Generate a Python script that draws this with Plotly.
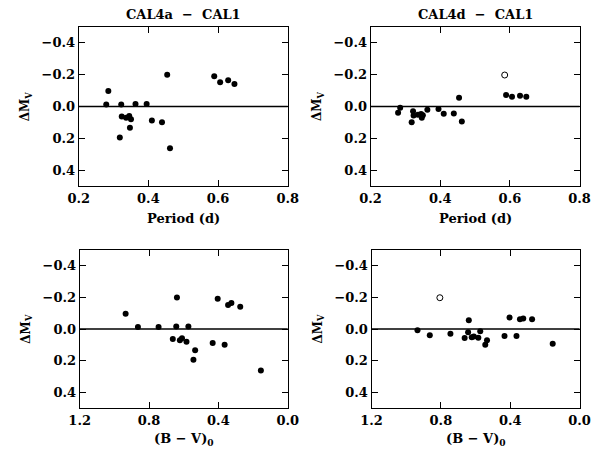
import plotly.graph_objects as go

# Data: 19 stars
period = [0.279, 0.285, 0.322, 0.3235, 0.336, 0.345, 0.350, 0.347, 0.318, 0.363,
          0.395, 0.410, 0.439, 0.454, 0.462, 0.589, 0.606, 0.629, 0.647]
bv0 = [0.864, 0.935, 0.745, 0.663, 0.622, 0.610, 0.584, 0.534, 0.544, 0.643,
       0.573, 0.433, 0.364, 0.639, 0.155, 0.404, 0.344, 0.325, 0.274]
dmv_cal4a = [-0.013, -0.097, -0.013, 0.063, 0.071, 0.059, 0.080, 0.134, 0.195, -0.016,
             -0.016, 0.088, 0.099, -0.200, 0.262, -0.191, -0.152, -0.165, -0.141]
dmv_cal4d = [0.040, 0.008, 0.030, 0.057, 0.052, 0.047, 0.055, 0.071, 0.099, 0.020,
             0.015, 0.045, 0.044, -0.055, 0.094, -0.072, -0.062, -0.067, -0.062]
# Open-circle point (CAL4d panels only)
open_period = [0.585]
open_bv0 = [0.806]
open_dmv = [-0.198]

titles = ["CAL4a  \u2212  CAL1", "CAL4d  \u2212  CAL1"]

OFF = 8  # page body margin
W, H = 606 - OFF, 449 - OFF
FONT = dict(family="DejaVu Serif", size=13, color="black", weight="bold")

fig = go.Figure()

panels = [
    ("x", "y", period, dmv_cal4a, (70, 287), (27, 186)),
    ("x2", "y2", period, dmv_cal4d, (373, 590), (27, 186)),
    ("x3", "y3", bv0, dmv_cal4a, (71, 287), (250, 408)),
    ("x4", "y4", bv0, dmv_cal4d, (374, 590), (250, 408)),
]

for xa, ya, xd, yd, xp, yp in panels:
    fig.add_trace(go.Scatter(x=xd, y=yd, mode="markers", xaxis=xa, yaxis=ya,
                             marker=dict(size=6, color="black", line=dict(width=0)),
                             showlegend=False))

fig.add_trace(go.Scatter(x=open_period, y=open_dmv, mode="markers", xaxis="x2", yaxis="y2",
                         marker=dict(size=6, color="white", line=dict(width=1, color="black")),
                         showlegend=False))
fig.add_trace(go.Scatter(x=open_bv0, y=open_dmv, mode="markers", xaxis="x4", yaxis="y4",
                         marker=dict(size=6, color="white", line=dict(width=1, color="black")),
                         showlegend=False))

layout = dict(width=W, height=H, margin=dict(l=0, r=0, t=0, b=0),
              paper_bgcolor="white", plot_bgcolor="white", showlegend=False,
              font=FONT)


def px(x):
    return (x - OFF) / W


def py(y):
    return 1 - (y - OFF) / H


shapes = []
annotations = []
for i, (xa, ya, xd, yd, xp, yp) in enumerate(panels):
    xk = "xaxis" if xa == "x" else "xaxis" + xa[1:]
    yk = "yaxis" if ya == "y" else "yaxis" + ya[1:]
    xdom = [px(xp[0]), px(xp[1])]
    ydom = [py(yp[1]), py(yp[0])]
    top = i < 2
    common = dict(showline=True, linecolor="black", linewidth=1, mirror="ticks",
                  ticks="inside", ticklen=6, tickwidth=1, tickcolor="black",
                  showgrid=False, zeroline=False, tickfont=FONT)
    if top:
        layout[xk] = dict(domain=xdom, range=[0.2, 0.8], tickvals=[0.2, 0.4, 0.6, 0.8],
                          tickformat=".1f", anchor=ya, **common)
    else:
        layout[xk] = dict(domain=xdom, range=[1.2, 0.0], tickvals=[1.2, 0.8, 0.4, 0.0],
                          tickformat=".1f", anchor=ya, **common)
    layout[yk] = dict(domain=ydom, range=[0.5, -0.5], tickvals=[-0.4, -0.2, 0.0, 0.2, 0.4],
                      tickformat=".1f", anchor=xa, **common)
    shapes.append(dict(type="line", xref=xa + " domain", yref=ya, x0=0, x1=1, y0=0, y1=0,
                       line=dict(color="black", width=1.5)))
    cx = px((xp[0] + xp[1]) / 2)
    annotations.append(dict(text="\u0394M<sub>V</sub>", x=px(xp[0] - 55),
                            y=py((yp[0] + yp[1]) / 2), xref="paper", yref="paper",
                            textangle=-90, showarrow=False, font=dict(FONT, size=12),
                            xanchor="center", yanchor="middle"))
    if top:
        annotations.append(dict(text=titles[i], x=cx, y=py(15), xref="paper", yref="paper",
                                showarrow=False, font=FONT, xanchor="center", yanchor="middle"))
        annotations.append(dict(text="Period (d)", x=cx, y=py(218), xref="paper",
                                yref="paper", showarrow=False, font=FONT,
                                xanchor="center", yanchor="middle"))
    else:
        annotations.append(dict(text="(B \u2212 V)<sub>0</sub>", x=cx, y=py(439),
                                xref="paper", yref="paper", showarrow=False, font=FONT,
                                xanchor="center", yanchor="middle"))

layout["shapes"] = shapes
layout["annotations"] = annotations
fig.update_layout(**layout)
fig.write_html("out.html")
